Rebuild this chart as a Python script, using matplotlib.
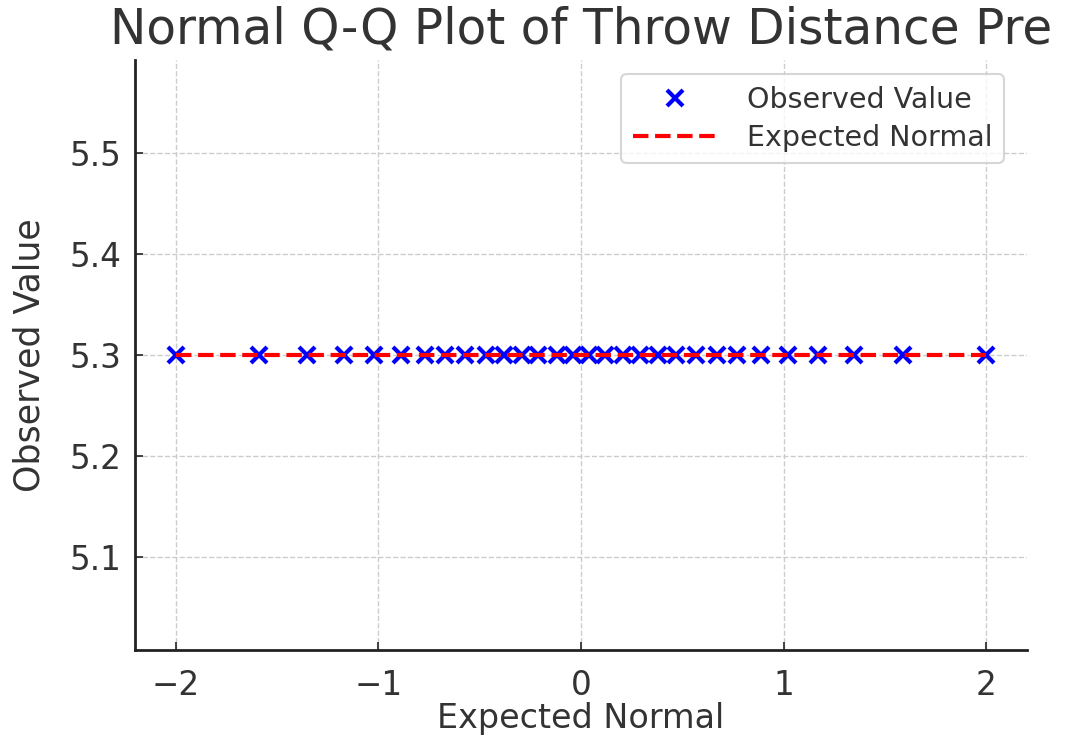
import matplotlib.pyplot as plt

# theoretical normal quantiles (30 points)
expected_q = [-2.00, -1.59, -1.35, -1.17, -1.02, -0.89, -0.77, -0.67, -0.57, -0.47,
              -0.38, -0.29, -0.21, -0.12, -0.04, 0.04, 0.12, 0.21, 0.29, 0.38,
              0.47, 0.57, 0.67, 0.77, 0.89, 1.02, 1.17, 1.35, 1.59, 2.00]
observed = [5.3] * 30
expected_line = [5.3] * 30

xticks = [-2, -1, 0, 1, 2]
yticks = [5.1, 5.2, 5.3, 5.4, 5.5]
title = "Normal Q-Q Plot of Throw Distance Pre"
xlabel = "Expected Normal"
ylabel = "Observed Value"
txt = '#333333'

plt.rcParams['font.family'] = ['DejaVu Sans']
fig = plt.figure(figsize=(10.83, 7.4), dpi=100)
ax = fig.add_axes([0.1247, 0.1216, 0.8233, 0.7974])

ax.plot(expected_q, observed, 'x', color='blue', markersize=11, mew=3,
        label='Observed Value', zorder=3)
ax.plot(expected_q, expected_line, '--', color='red', lw=3,
        label='Expected Normal', zorder=4)

ax.set_xticks(xticks)
ax.set_yticks(yticks)
ax.grid(True, ls='--', color='#cccccc', lw=1)
ax.set_axisbelow(True)
for s in ['top', 'right']:
    ax.spines[s].set_visible(False)
for s in ['left', 'bottom']:
    ax.spines[s].set_color('#222222')
    ax.spines[s].set_linewidth(2)
ax.tick_params(direction='in', length=6, width=1.2, labelsize=23.5, colors='#222222',
               labelcolor=txt)
ax.tick_params(axis='x', pad=14)
ax.tick_params(axis='y', pad=10)

ax.set_title(title, fontsize=35, color=txt, pad=12)
ax.set_xlabel(xlabel, fontsize=24, color=txt, labelpad=0)
ax.set_ylabel(ylabel, fontsize=25, color=txt, labelpad=16)

leg = ax.legend(loc='upper right', fontsize=20.5, frameon=True, borderpad=0.4,
                handlelength=3.0, handletextpad=1.0, labelspacing=0.35,
                bbox_to_anchor=(0.99, 1.0))
leg.get_frame().set_edgecolor('#cccccc')
leg.get_frame().set_linewidth(1.5)
for t in leg.get_texts():
    t.set_color(txt)

fig.savefig('out.png', dpi=100)
